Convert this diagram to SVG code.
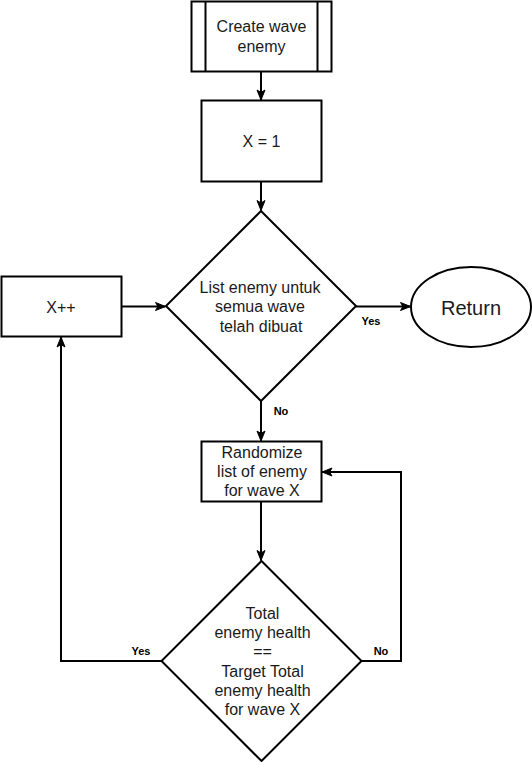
<svg xmlns="http://www.w3.org/2000/svg" width="532" height="762" viewBox="0 0 532 762">
<style>
.shape{fill:#fff;stroke:#000;stroke-width:2}
.line{fill:none;stroke:#000;stroke-width:2}
.t{font-family:"Liberation Sans",Arial,sans-serif;font-size:16px;fill:#1a1a1a;text-anchor:middle}
.lbl{font-family:"Liberation Sans",Arial,sans-serif;font-size:11px;font-weight:bold;fill:#000;text-anchor:middle}
</style>
<defs>
<marker id="arr" viewBox="0 0 12 10" refX="11" refY="5" markerWidth="12" markerHeight="10" orient="auto" markerUnits="userSpaceOnUse">
<path d="M1,1 L11,5 L1,9 L3.5,5 Z" fill="#000" stroke="#000" stroke-width="1"/>
</marker>
</defs>
<rect width="532" height="762" fill="#fff"/>
<g id="connectors">
<path class="line" d="M261,71.5 L261,100" marker-end="url(#arr)"/>
<path class="line" d="M261,181.5 L261,210.5" marker-end="url(#arr)"/>
<path class="line" d="M121.5,306.5 L165.5,306.5" marker-end="url(#arr)"/>
<path class="line" d="M356,306.5 L410.5,306.5" marker-end="url(#arr)"/>
<text class="lbl" x="371" y="325">Yes</text>
<path class="line" d="M261,401 L261,441" marker-end="url(#arr)"/>
<text class="lbl" x="281" y="415">No</text>
<path class="line" d="M261,501.5 L261,560.5" marker-end="url(#arr)"/>
<path class="line" d="M161,661 L61,661 L61,337" marker-end="url(#arr)"/>
<text class="lbl" x="141" y="655">Yes</text>
<path class="line" d="M361.5,661 L401,661 L401,472 L322,472" marker-end="url(#arr)"/>
<text class="lbl" x="381" y="655">No</text>
</g>
<g id="create-wave-enemy">
<rect class="shape" x="191.5" y="1.5" width="140" height="70"/>
<line class="line" x1="205.5" y1="1.5" x2="205.5" y2="71.5"/>
<line class="line" x1="317.5" y1="1.5" x2="317.5" y2="71.5"/>
<text class="t" x="261.5" y="32.4">Create wave</text>
<text class="t" x="261.5" y="51.6">enemy</text>
</g>
<g id="x-equals-1">
<rect class="shape" x="201.5" y="100.5" width="120" height="81"/>
<text class="t" x="261.5" y="146.5">X = 1</text>
</g>
<g id="decision-list">
<polygon class="shape" points="261,211 356,306 261,401 166,306"/>
<text class="t" x="260" y="293">List enemy untuk</text>
<text class="t" x="260" y="312.3">semua wave</text>
<text class="t" x="261" y="331.6">telah dibuat</text>
</g>
<g id="x-increment">
<rect class="shape" x="1.5" y="276.5" width="120" height="60"/>
<text class="t" x="61" y="312.5">X++</text>
</g>
<g id="return">
<ellipse class="shape" cx="471" cy="307" rx="60" ry="40"/>
<text class="t" x="471" y="314.5" style="font-size:20px">Return</text>
</g>
<g id="randomize">
<rect class="shape" x="201.5" y="441.5" width="120" height="60"/>
<text class="t" x="262" y="457.8">Randomize</text>
<text class="t" x="262" y="477">list of enemy</text>
<text class="t" x="262" y="496.2">for wave X</text>
</g>
<g id="decision-health">
<polygon class="shape" points="261.5,561 361.5,661 261.5,761 161.5,661"/>
<text class="t" x="262.5" y="619">Total</text>
<text class="t" x="262.5" y="638.2">enemy health</text>
<text class="t" x="262.5" y="657.4">==</text>
<text class="t" x="262.5" y="676.6">Target Total</text>
<text class="t" x="262.5" y="695.8">enemy health</text>
<text class="t" x="262.5" y="715">for wave X</text>
</g>
</svg>
